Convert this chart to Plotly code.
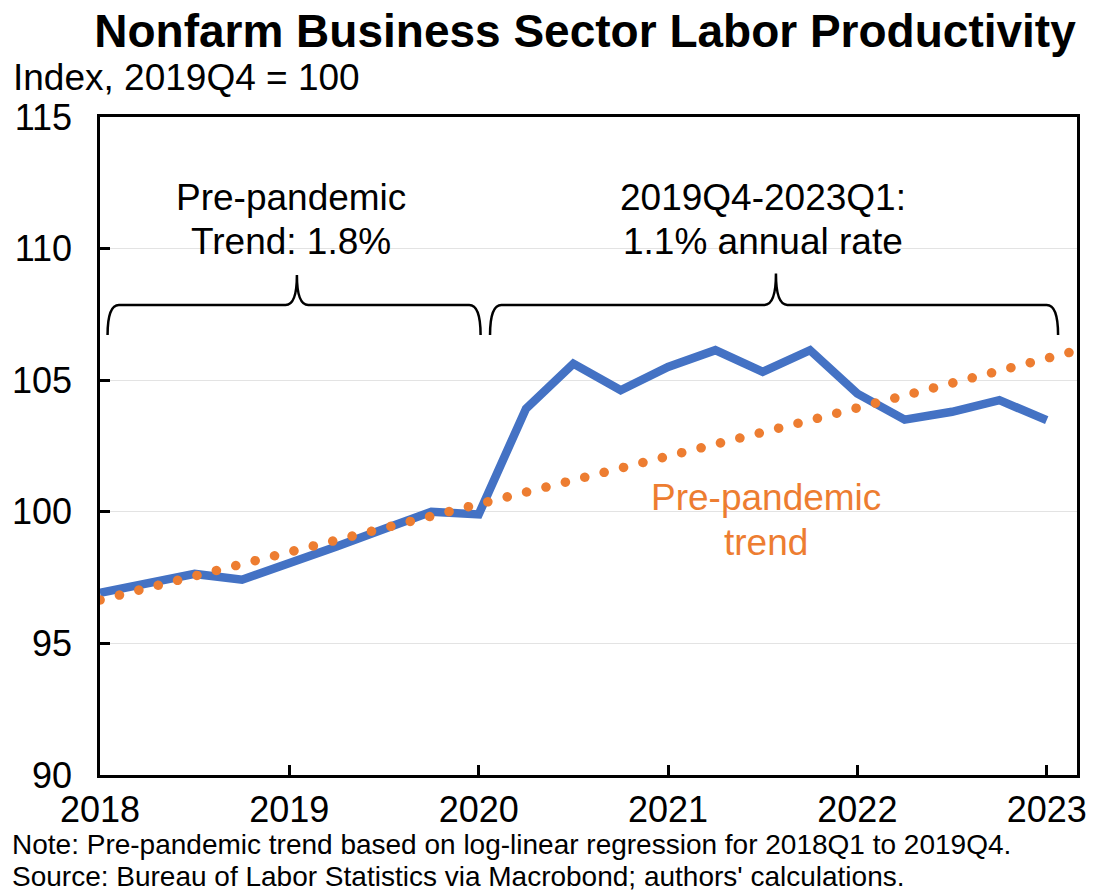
import plotly.graph_objects as go

# ---- data ----
quarters = ["2018Q1", "2018Q2", "2018Q3", "2018Q4",
            "2019Q1", "2019Q2", "2019Q3", "2019Q4",
            "2020Q1", "2020Q2", "2020Q3", "2020Q4",
            "2021Q1", "2021Q2", "2021Q3", "2021Q4",
            "2022Q1", "2022Q2", "2022Q3", "2022Q4",
            "2023Q1"]
productivity = [96.92, 97.26, 97.64, 97.42,
                98.03, 98.68, 99.35, 100.00,
                99.90, 103.92, 105.63, 104.62,
                105.50, 106.14, 105.32, 106.14,
                104.49, 103.50, 103.80, 104.24,
                103.48]
trend_quarters = quarters + ["2023Q2"]
trend = [96.65, 97.10, 97.55, 98.00,
         98.45, 98.90, 99.35, 99.80,
         100.25, 100.71, 101.17, 101.63,
         102.09, 102.55, 103.01, 103.48,
         103.95, 104.42, 104.89, 105.36,
         105.83, 106.30]
year_ticks = [2018, 2019, 2020, 2021, 2022, 2023]
y_ticks = [90, 95, 100, 105, 110, 115]


def qpos(q):
    return int(q[:4]) + (int(q[5]) - 1) / 4.0


x_prod = [qpos(q) for q in quarters]
x_trend = [qpos(q) for q in trend_quarters]

BLUE = "#4472C4"
ORANGE = "#ED7D31"
FONT = "Liberation Sans, Arial, sans-serif"

fig = go.Figure()
fig.add_trace(go.Scatter(x=x_prod, y=productivity, mode="lines",
                         line=dict(color=BLUE, width=8.5), hoverinfo="skip",
                         showlegend=False))
fig.add_trace(go.Scatter(x=x_trend, y=trend, mode="lines",
                         line=dict(color=ORANGE, width=9.5, dash="0.1px,19.9px"),
                         hoverinfo="skip", showlegend=False))

L, R, T, B = 100, 16, 117, 118
W, H = 1099, 893
pw = W - L - R
ph = H - T - B


def px2paper_x(px):
    return (px - L) / pw


def px2paper_y(py):
    return (H - B - py) / ph


annotations = [
    dict(text="Index, 2019Q4 = 100", x=px2paper_x(10), y=px2paper_y(77),
         xanchor="left", yanchor="middle", font=dict(size=37)),
    dict(text="Note: Pre-pandemic trend based on log-linear regression for 2018Q1 to 2019Q4.",
         x=px2paper_x(9), y=px2paper_y(844.8), xanchor="left", yanchor="middle",
         font=dict(size=28)),
    dict(text="Source: Bureau of Labor Statistics via Macrobond; authors' calculations.",
         x=px2paper_x(9), y=px2paper_y(876.6), xanchor="left", yanchor="middle",
         font=dict(size=28)),
    dict(text="Pre-pandemic", x=px2paper_x(292), y=px2paper_y(197),
         xanchor="center", yanchor="middle", font=dict(size=37)),
    dict(text="Trend: 1.8%", x=px2paper_x(292), y=px2paper_y(241),
         xanchor="center", yanchor="middle", font=dict(size=37)),
    dict(text="2019Q4-2023Q1:", x=px2paper_x(767), y=px2paper_y(197),
         xanchor="center", yanchor="middle", font=dict(size=37)),
    dict(text="1.1% annual rate", x=px2paper_x(767), y=px2paper_y(241),
         xanchor="center", yanchor="middle", font=dict(size=37)),
    dict(text="Pre-pandemic", x=px2paper_x(770), y=px2paper_y(498),
         xanchor="center", yanchor="middle", font=dict(size=37, color=ORANGE)),
    dict(text="trend", x=px2paper_x(770), y=px2paper_y(542),
         xanchor="center", yanchor="middle", font=dict(size=37, color=ORANGE)),
]
for a in annotations:
    a.update(xref="paper", yref="paper", showarrow=False, align="center")
    a["font"].setdefault("color", "black")
    a["font"]["family"] = FONT


def bracket(x0, xc, x1, ylow, yline, ytop, r=0.06):
    return (f"M {x0},{ylow} Q {x0},{yline} {x0 + r},{yline} "
            f"L {xc - r},{yline} Q {xc},{yline} {xc},{ytop} "
            f"Q {xc},{yline} {xc + r},{yline} "
            f"L {x1 - r},{yline} Q {x1},{yline} {x1},{ylow}")


shapes = [
    dict(type="path", xref="x", yref="y",
         path=bracket(2018.04, 2019.04, 2020.01, 106.72, 107.86, 109.0),
         line=dict(color="black", width=2.5)),
    dict(type="path", xref="x", yref="y",
         path=bracket(2020.06, 2021.57, 2023.06, 106.72, 107.86, 109.05),
         line=dict(color="black", width=2.5)),
]

fig.update_layout(
    width=W, height=H,
    margin=dict(l=L, r=R, t=T, b=B),
    paper_bgcolor="white", plot_bgcolor="white",
    font=dict(family=FONT, color="black"),
    title=dict(text="<b>Nonfarm Business Sector Labor Productivity</b>",
               x=585 / W, xanchor="center", y=1 - 31 / H, yanchor="middle",
               yref="container", xref="container",
               font=dict(size=46, family=FONT, color="black")),
    annotations=annotations,
    shapes=shapes,
)
fig.update_xaxes(range=[2018, 2023.16], tickvals=year_ticks,
                 ticktext=[str(y) for y in year_ticks],
                 showgrid=False, zeroline=False,
                 showline=True, linecolor="black", linewidth=2.5, mirror=True,
                 ticks="inside", ticklen=10, tickwidth=2.5, tickcolor="black",
                 ticklabelstandoff=1,
                 tickfont=dict(size=36, family=FONT, color="black"))
fig.update_yaxes(range=[90, 115], tickvals=y_ticks,
                 showgrid=True, gridcolor="#e3e3e3", gridwidth=1, zeroline=False,
                 showline=True, linecolor="black", linewidth=2.5, mirror=True,
                 ticks="inside", ticklen=10, tickwidth=2.5, tickcolor="black",
                 ticklabelstandoff=18,
                 tickfont=dict(size=36, family=FONT, color="black"))

post_script = """
document.documentElement.style.margin = '0';
document.body.style.margin = '0';
document.body.style.overflow = 'hidden';
var gd = document.getElementById('{plot_id}');
function roundDots(){
  gd.querySelectorAll('path.js-line').forEach(function(p){
    var d = p.style.strokeDasharray;
    if (d && d !== 'none') { p.style.strokeLinecap = 'round'; }
  });
}
roundDots();
if (gd.on) { gd.on('plotly_afterplot', roundDots); }
"""
fig.write_html("out.html", post_script=post_script,
               config={"displayModeBar": False})
